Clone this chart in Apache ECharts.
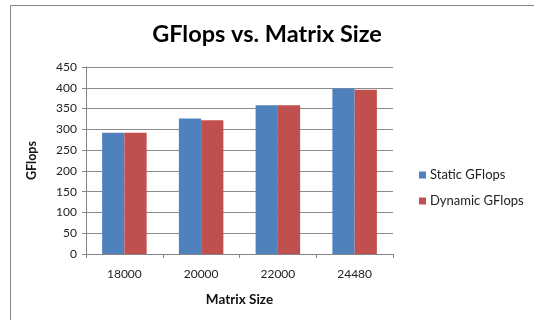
<!DOCTYPE html>
<html>
<head>
<meta charset="utf-8">
<script src="https://cdn.jsdelivr.net/npm/echarts@6/dist/echarts.min.js"></script>
<style>
  html, body { margin: 0; padding: 0; background: #ffffff; }
  #chart { width: 534px; height: 320px; }
</style>
</head>
<body>
<div id="chart"></div>
<script>
// Matrix sizes tested and the measured throughput for each scheduling mode
var matrixSizes = ['18000', '20000', '22000', '24480'];
var staticGflops = [292, 326, 358, 398];
var dynamicGflops = [292, 322, 358, 395];
var yTicks = { min: 0, max: 450, step: 50 };

var FONT = 'Lato, "Open Sans", sans-serif';

var chart = echarts.init(document.getElementById('chart'), null, { renderer: 'canvas' });

chart.setOption({
  animation: false,
  backgroundColor: '#ffffff',
  title: {
    text: 'GFlops vs. Matrix Size',
    left: 'center',
    top: 17,
    textStyle: { fontFamily: FONT, fontSize: 23.5, fontWeight: 'bold', color: '#000000' }
  },
  graphic: [{
    type: 'rect',
    silent: true,
    shape: { x: 10.5, y: 5.5, width: 600, height: 400 },
    style: { fill: 'none', stroke: '#868686', lineWidth: 1 }
  }],
  legend: {
    orient: 'vertical',
    left: 414,
    top: 163,
    itemWidth: 7,
    itemHeight: 7,
    itemGap: 12,
    icon: 'rect',
    textStyle: { fontFamily: FONT, fontSize: 13, lineHeight: 14, color: '#222222', padding: [0, 0, 0, -1] },
    data: ['Static GFlops', 'Dynamic GFlops']
  },
  grid: { left: 86, top: 67, width: 307, height: 187, containLabel: false },
  xAxis: {
    type: 'category',
    data: matrixSizes,
    name: 'Matrix Size',
    nameLocation: 'middle',
    nameGap: 39,
    nameTextStyle: { fontFamily: FONT, fontSize: 13.5, fontWeight: 'bold', color: '#111111' },
    axisLine: { lineStyle: { color: '#868686', width: 1 } },
    axisTick: { show: true, length: 4, lineStyle: { color: '#868686' } },
    axisLabel: { fontFamily: FONT, fontSize: 12, color: '#222222', margin: 14 }
  },
  yAxis: {
    type: 'value',
    min: yTicks.min,
    max: yTicks.max,
    interval: yTicks.step,
    name: 'GFlops',
    nameLocation: 'middle',
    nameRotate: 90,
    nameGap: 48,
    nameTextStyle: { fontFamily: FONT, fontSize: 12.5, fontWeight: 'bold', color: '#111111' },
    axisLine: { show: true, lineStyle: { color: '#868686', width: 1 } },
    axisTick: { show: true, length: 4, lineStyle: { color: '#868686' } },
    axisLabel: { fontFamily: FONT, fontSize: 12, color: '#222222', margin: 9 },
    splitLine: { show: true, lineStyle: { color: '#8c8c8c', width: 1 } }
  },
  series: [
    {
      name: 'Static GFlops',
      type: 'bar',
      data: staticGflops,
      barWidth: '29%',
      barGap: '0%',
      itemStyle: { color: '#4F81BD' }
    },
    {
      name: 'Dynamic GFlops',
      type: 'bar',
      data: dynamicGflops,
      barWidth: '29%',
      barGap: '0%',
      itemStyle: { color: '#C0504D' }
    }
  ]
});
</script>
</body>
</html>
